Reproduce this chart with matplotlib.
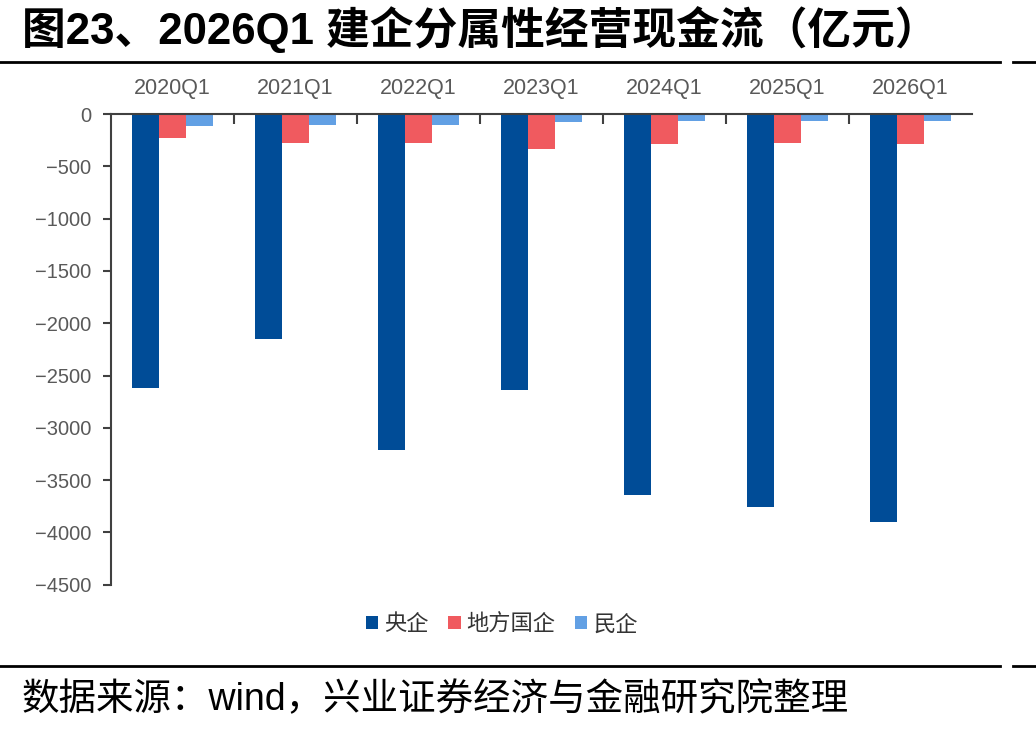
import matplotlib
matplotlib.use("Agg")
import matplotlib.pyplot as plt
import numpy as np

plt.rcParams['font.family'] = ['Liberation Sans', 'Noto Sans CJK SC', 'DejaVu Sans']
plt.rcParams['axes.unicode_minus'] = True

quarters = ['2020Q1', '2021Q1', '2022Q1', '2023Q1', '2024Q1', '2025Q1', '2026Q1']
central = [-2620, -2150, -3210, -2635, -3640, -3760, -3895]
local = [-225, -275, -275, -330, -290, -275, -290]
private = [-115, -105, -105, -80, -65, -65, -65]
series_names = ['央企', '地方国企', '民企']
colors = ['#004C97', '#F05A5F', '#62A0E4']

fig = plt.figure(figsize=(10.36, 7.31), dpi=100)
ax = fig.add_axes([0.1071, 0.2, 0.8311, 0.644])

x = np.arange(len(quarters))
w = 0.22
for i, (vals, name, c) in enumerate(zip([central, local, private], series_names, colors)):
    ax.bar(x + (i - 1) * w, vals, width=w, color=c, label=name, zorder=2)

ax.set_xlim(-0.5, len(quarters) - 0.5)
ax.set_ylim(-4500, 0)
ax.set_yticks(np.arange(-4500, 1, 500))

ax.xaxis.tick_top()
ax.set_xticks(x)
ax.set_xticklabels(quarters)
ax.set_xticks(x[:-1] + 0.5, minor=True)
ax.tick_params(axis='x', which='major', length=0, pad=11, labelsize=15.5, labelcolor='#595959')
ax.tick_params(axis='x', which='minor', direction='in', length=7, width=1.5, color='#404040')
ax.tick_params(axis='y', direction='out', length=6, width=1.5, color='#404040',
               labelsize=14.5, labelcolor='#595959', pad=8)

for s in ['bottom', 'right']:
    ax.spines[s].set_visible(False)
for s in ['top', 'left']:
    ax.spines[s].set_color('#404040')
    ax.spines[s].set_linewidth(1.5)

ax.legend(loc='upper center', bbox_to_anchor=(0.454, -0.02), ncol=3, frameon=False,
          fontsize=16, handlelength=0.55, handleheight=0.55, handletextpad=0.25,
          columnspacing=0.9, labelcolor='#333333')

fig.text(0.021, 0.96, '图23、2026Q1 建企分属性经营现金流（亿元）', fontsize=31.5,
         fontweight='bold', va='center', ha='left', color='black')
fig.text(0.021, 0.042, '数据来源：wind，兴业证券经济与金融研究院整理', fontsize=27,
         va='center', ha='left', color='black')

for yy in [1 - 62 / 731, 1 - 666 / 731]:
    fig.add_artist(plt.Line2D([0, 1000 / 1036], [yy, yy], color='black', lw=2))
    fig.add_artist(plt.Line2D([1013 / 1036, 1], [yy, yy], color='black', lw=2))

fig.savefig('out.png', dpi=100)
